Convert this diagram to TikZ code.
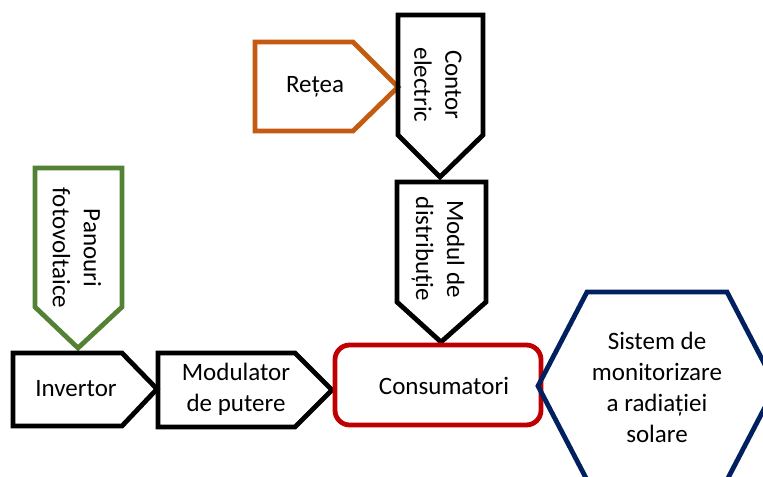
\documentclass[tikz,border=0pt]{standalone}
\usepackage{fontspec}
\setmainfont{Carlito}
\definecolor{reteaC}{HTML}{C55A11}
\definecolor{panouC}{HTML}{548235}
\definecolor{consC}{HTML}{C00000}
\definecolor{monC}{HTML}{002060}
\tikzset{
  blk/.style={line width=3.6pt, line join=miter},
  lbl/.style={font=\fontsize{18.75}{23.25}\selectfont, align=center, inner sep=0pt}
}

\begin{document}
\begin{tikzpicture}[x=0.75pt,y=-0.75pt]
\useasboundingbox (0,0) rectangle (763,477);
\clip (0,0) rectangle (763,477);
%----Retea------------------------------------
\draw[blk, reteaC] (255,42) -- (353,42) -- (398,87) -- (353,131) -- (255,131) -- cycle;
\node[lbl] (retea) at (315,87) {Rețea};
%----Contor electric--------------------------
\draw[blk] (398,15) -- (483,15) -- (483,135) -- (440,177) -- (398,135) -- cycle;
\node[lbl, rotate=-90] (contor) at (438,85) {Contor\\electric};
%----Modul de distributie---------------------
\draw[blk] (397,182) -- (486,182) -- (486,302) -- (441,342) -- (397,302) -- cycle;
\node[lbl, rotate=-90] (modul) at (438,249) {Modul de\\distribuție};
%----Panouri fotovoltaice---------------------
\draw[blk, panouC] (35,168) -- (122,168) -- (122,307) -- (78,348) -- (35,307) -- cycle;
\node[lbl, rotate=-90] (panouri) at (77,248) {Panouri\\fotovoltaice};
%----Invertor---------------------------------
\draw[blk] (13,353) -- (122,353) -- (157,389) -- (122,426) -- (13,426) -- cycle;
\node[lbl] (invertor) at (76,389) {Invertor};
%----Modulator de putere----------------------
\draw[blk] (158,353) -- (295,353) -- (332,390) -- (295,427) -- (158,427) -- cycle;
\node[lbl] (modulator) at (236,389) {Modulator\\de putere};
%----Consumatori------------------------------
\draw[blk, consC, rounded corners=11pt] (335,345) rectangle (541,425);
\node[lbl] (consumatori) at (444,386) {Consumatori};
%----Sistem de monitorizare-------------------
\draw[blk, monC] (587,292) -- (727,292) -- (776,386) -- (727,480) -- (587,480) -- (538,386) -- cycle;
\node[lbl] (monitor) at (657,387) {Sistem de\\monitorizare\\a radiației\\solare};
\end{tikzpicture}
\end{document}
